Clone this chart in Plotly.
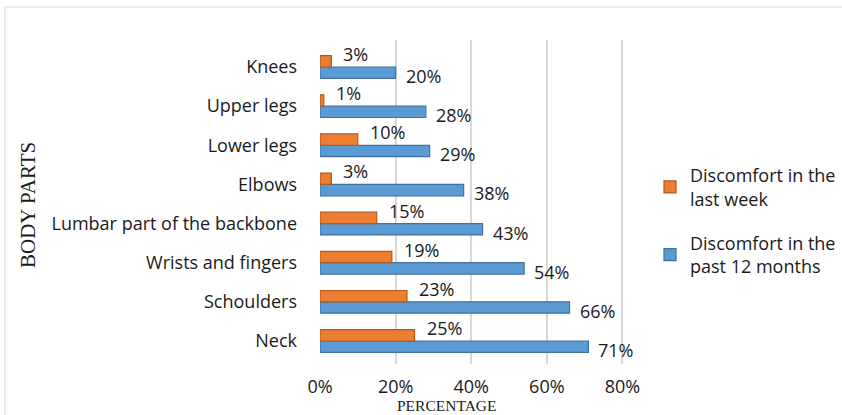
import plotly.graph_objects as go

# Body parts, listed bottom to top
categories = ["Neck", "Schoulders", "Wrists and fingers", "Lumbar part of the backbone",
              "Elbows", "Lower legs", "Upper legs", "Knees"]
last_week = [25, 23, 19, 15, 3, 10, 1, 3]
past_12_months = [71, 66, 54, 43, 38, 29, 28, 20]
x_ticks = [0, 20, 40, 60, 80]
x_tick_labels = ["0%", "20%", "40%", "60%", "80%"]

W, H = 842, 415
L, R, T, B = 320, 212, 40, 51

BLUE = "#5B9BD5"
BLUE_DARK = "#41719C"
ORANGE = "#ED7D31"
ORANGE_DARK = "#AE5A21"
LABEL_FONT = "Open Sans, Lato, sans-serif"
TEXT = "#1a1a1a"
FS = 18

fig = go.Figure()
fig.add_trace(go.Bar(
    y=categories, x=past_12_months, orientation="h",
    name="Discomfort in the<br>past 12 months", legendgroup="b", legendrank=2,
    marker=dict(color=BLUE, line=dict(color=BLUE_DARK, width=1.2)),
))
fig.add_trace(go.Bar(
    y=categories, x=last_week, orientation="h",
    name="Discomfort in the<br>last week", legendgroup="a", legendrank=1,
    marker=dict(color=ORANGE, line=dict(color=ORANGE_DARK, width=1.2)),
))

# Value labels beside each bar
annotations = []
for cat, v in zip(categories, last_week):
    annotations.append(dict(x=v, y=cat, xref="x", yref="y", text=f"{v}%",
                            showarrow=False, xanchor="left", xshift=10, yshift=13,
                            font=dict(family=LABEL_FONT, size=FS, color=TEXT)))
for cat, v in zip(categories, past_12_months):
    annotations.append(dict(x=v, y=cat, xref="x", yref="y", text=f"{v}%",
                            showarrow=False, xanchor="left", xshift=8, yshift=-9,
                            font=dict(family=LABEL_FONT, size=FS, color=TEXT)))

# Axis titles
pw, ph = W - L - R, H - T - B
def px_to_paper_x(px):
    return (px - L) / pw
def px_to_paper_y(py):
    return (H - B - py) / ph

annotations.append(dict(x=px_to_paper_x(28), y=px_to_paper_y(205), xref="paper", yref="paper",
                        xanchor="center", yanchor="middle",
                        text="BODY PARTS", textangle=-90, showarrow=False,
                        font=dict(family="Liberation Serif, serif", size=21, color=TEXT)))
annotations.append(dict(x=px_to_paper_x(447), y=px_to_paper_y(406), xref="paper", yref="paper",
                        xanchor="center", yanchor="middle",
                        text="PERCENTAGE", showarrow=False,
                        font=dict(family="Liberation Serif, serif", size=15.5, color=TEXT)))

shapes = [dict(type="rect", xref="paper", yref="paper",
               x0=px_to_paper_x(5), x1=px_to_paper_x(845),
               y0=px_to_paper_y(420), y1=px_to_paper_y(7),
               line=dict(color="#D9D9D9", width=1), layer="below")]

fig.update_layout(
    width=W, height=H,
    margin=dict(l=L, r=R, t=T, b=B, autoexpand=False),
    paper_bgcolor="white", plot_bgcolor="white",
    barmode="group", bargap=0.42, bargroupgap=0,
    xaxis=dict(range=[0, 82], tickvals=x_ticks, ticktext=x_tick_labels,
               showgrid=True, gridcolor="#D9D9D9", gridwidth=1.5, zeroline=False,
               showline=False, ticks="", automargin=False, ticklabelstandoff=10,
               tickfont=dict(family=LABEL_FONT, size=FS, color=TEXT)),
    yaxis=dict(categoryorder="array", categoryarray=categories, automargin=False,
               showgrid=False, showline=False, ticks="", ticklabelstandoff=22,
               tickfont=dict(family=LABEL_FONT, size=FS, color=TEXT)),
    legend=dict(x=px_to_paper_x(650), y=px_to_paper_y(157), xanchor="left", yanchor="top",
                traceorder="grouped", itemwidth=30, tracegroupgap=18,
                font=dict(family=LABEL_FONT, size=FS, color=TEXT)),
    annotations=annotations,
    shapes=shapes,
)

fig.write_html("out.html")
